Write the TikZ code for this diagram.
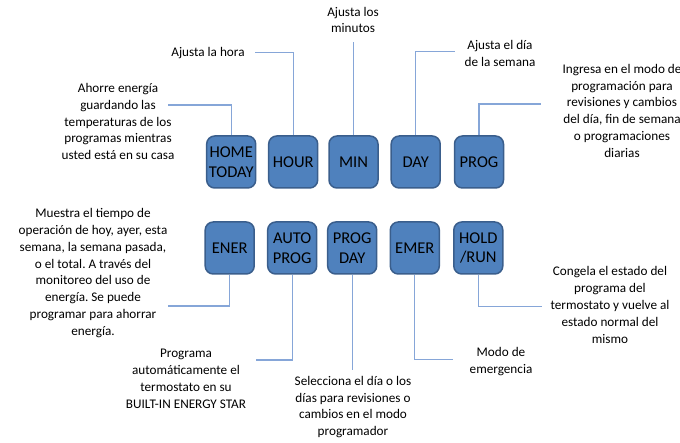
\documentclass[tikz,border=0pt]{standalone}
\usepackage{fontspec}
\setmainfont{Carlito}
\frenchspacing
\definecolor{boxfill}{HTML}{4F81BD}
\definecolor{boxline}{HTML}{3A5E8C}
\definecolor{conn}{HTML}{86A6D8}
\begin{document}
\begin{tikzpicture}[x=1pt,y=1pt,
  btn/.style={draw=boxline,line width=1.5pt,fill=boxfill,rounded corners=8pt,
    minimum width=49pt,minimum height=52pt,inner sep=0pt,align=center,
    font=\fontsize{16.5}{19.5}\selectfont,text=black},
  lbl/.style={align=center,inner sep=0pt,font=\fontsize{13.2}{16.8}\selectfont,text=black},
  wire/.style={draw=conn,line width=1.3pt}]
\useasboundingbox (0,0) rectangle (680,442);
% top row
\node[btn] (home) at (231.2,280) {HOME\\TODAY};
\node[btn] (hour) at (293.2,280) {HOUR};
\node[btn] (min)  at (353.5,280) {MIN};
\node[btn] (day)  at (415.7,280) {DAY};
\node[btn] (prog) at (479,280) {PROG};
% bottom row
\node[btn] (ener) at (229.7,194) {ENER};
\node[btn] (auto) at (292.2,194) {AUTO\\PROG};
\node[btn] (pday) at (352.2,194) {PROG\\DAY};
\node[btn] (emer) at (414.8,194) {EMER};
\node[btn] (hold) at (478.3,194) {HOLD\\/RUN};
% labels
\node[lbl] (lhome) at (118,320.5) {Ahorre energía\\guardando las\\temperaturas de los\\programas mientras\\usted está en su casa};
\node[lbl] (lhour) at (208,389) {Ajusta la hora};
\node[lbl] (lmin) at (353,422) {Ajusta los\\minutos};
\node[lbl] (lday) at (500,388.7) {Ajusta el día\\de la semana};
\node[lbl] (lprog) at (622,331.2) {Ingresa en el modo de\\programación para\\revisiones y cambios\\del día, fin de semana\\o programaciones\\diarias};
\node[lbl] (lener) at (93,169) {Muestra el tiempo de\\operación de hoy, ayer, esta\\semana, la semana pasada,\\o el total. A través del\\monitoreo del uso de\\energía. Se puede\\programar para ahorrar\\energía.};
\node[lbl] (lauto) at (186,63) {Programa\\automáticamente el\\termostato en su\\BUILT-IN ENERGY STAR};
\node[lbl] (lpday) at (353,35) {Selecciona el día o los\\días para revisiones o\\cambios en el modo\\programador};
\node[lbl] (lemer) at (501,80.5) {Modo de\\emergencia};
\node[lbl] (lhold) at (610,137) {Congela el estado del\\programa del\\termostato y vuelve al\\estado normal del\\mismo};
% connector ends
\coordinate (chome) at (168,337);
\coordinate (chour) at (255,389.3);
\coordinate (cmin) at (353.5,400.3);
\coordinate (cday) at (455,390.3);
\coordinate (cprog) at (541,338);
\coordinate (cener) at (168,136);
\coordinate (cauto) at (256,82);
\coordinate (cpday) at (352.2,72);
\coordinate (cemer) at (453.3,82.7);
\coordinate (chold) at (541.7,135.3);
% connectors
\draw[wire] (home.north) |- (chome);
\draw[wire] (hour.north) |- (chour);
\draw[wire] (min.north) -- (cmin);
\draw[wire] (day.north) |- (cday);
\draw[wire] (prog.north) |- (cprog);
\draw[wire] (ener.south) |- (cener);
\draw[wire] (auto.south) |- (cauto);
\draw[wire] (pday.south) -- (cpday);
\draw[wire] (emer.south) |- (cemer);
\draw[wire] (hold.south) |- (chold);
\end{tikzpicture}
\end{document}
